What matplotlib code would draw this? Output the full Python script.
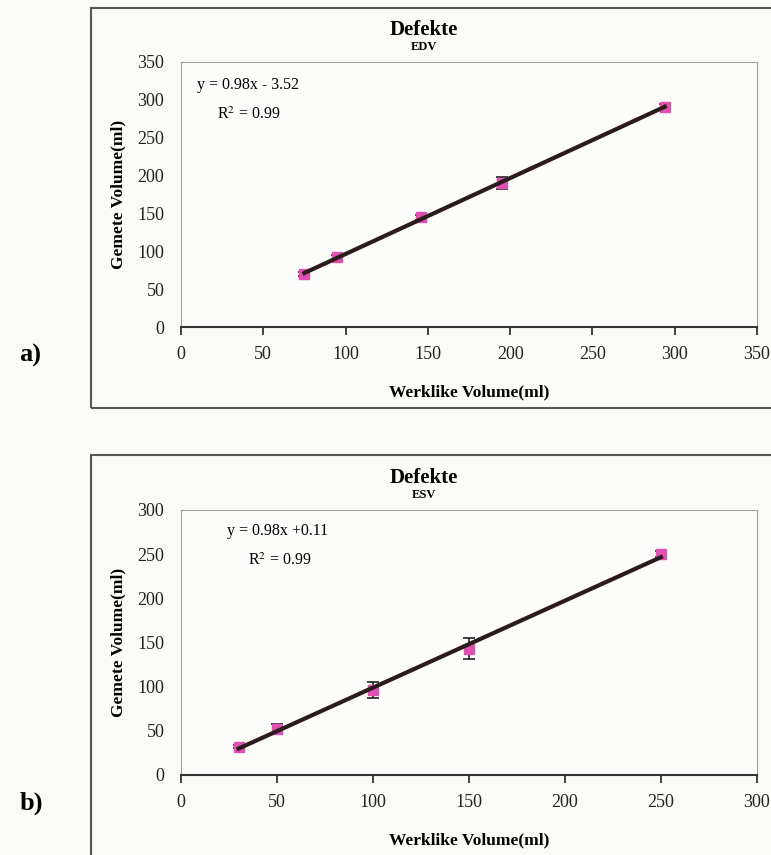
import numpy as np
import matplotlib
matplotlib.use('Agg')
import matplotlib.pyplot as plt
from matplotlib.patches import Rectangle

plt.rcParams['font.family'] = ['Liberation Serif', 'DejaVu Serif']
plt.rcParams['mathtext.fontset'] = 'stix'

# EDV data (a)
edv_x = [75, 95, 146, 195, 294]
edv_y = [70, 92, 145, 190, 291]
edv_err = [3, 3, 3, 8, 3]

# ESV data (b)
esv_x = [30, 50, 100, 150, 250]
esv_y = [32, 52, 96, 143, 250]
esv_err = [2, 6, 9, 12, 3]

panels = [
    dict(sub='EDV', x=edv_x, y=edv_y, err=edv_err, lim=350, letter='a)',
         eq='y = 0.98x - 3.52', eqpos=(9.5, 319), r2pos=(22, 281),
         rect=[0.2348, 0.6175, 0.747, 0.31], box=(0.118, 0.5228, 0.9906)),
    dict(sub='ESV', x=esv_x, y=esv_y, err=esv_err, lim=300, letter='b)',
         eq='y = 0.98x +0.11', eqpos=(24, 276), r2pos=(35, 243),
         rect=[0.2348, 0.0936, 0.747, 0.31], box=(0.118, -0.02, 0.468)),
]

fig = plt.figure(figsize=(7.71, 8.55), dpi=100, facecolor='#fafaf6')

for p in panels:
    # outer frame around each chart
    x0, y0, y1 = p['box']
    fig.patches.append(Rectangle((x0, y0), 1.0, y1 - y0, transform=fig.transFigure,
                                 fill=False, edgecolor='#555555', lw=1.5))

    ax = fig.add_axes(p['rect'])
    ax.set_facecolor('#fcfcfa')
    ax.set_xlim(0, p['lim'])
    ax.set_ylim(0, p['lim'])
    ax.set_xticks(np.arange(0, p['lim'] + 1, 50))
    ax.set_yticks(np.arange(0, p['lim'] + 1, 50))
    for s in ['top', 'right', 'left']:
        ax.spines[s].set_linestyle((0, (2, 1)))
        ax.spines[s].set_color('#a0a0a0')
        ax.spines[s].set_linewidth(0.8)
    ax.spines['bottom'].set_color('#333333')
    ax.spines['bottom'].set_linewidth(1.5)
    ax.tick_params(axis='x', direction='out', length=6, width=1.2, pad=8,
                   labelsize=13, colors='#222222')
    ax.tick_params(axis='y', length=0, pad=12, labelsize=13, colors='#222222')

    # trend line from a least-squares fit of the points
    k, b = np.polyfit(p['x'], p['y'], 1)
    xs = np.array([min(p['x']), max(p['x'])])
    ax.errorbar(p['x'], p['y'], yerr=p['err'], fmt='s', ms=7.5, color='#e050b0',
                ecolor='#222222', elinewidth=1.2, capsize=4, capthick=1.2, zorder=3)
    ax.plot(xs, k * xs + b, color='#2a1c1c', lw=3, zorder=4)

    ax.text(p['eqpos'][0], p['eqpos'][1], p['eq'], fontsize=11.5, va='center')
    ax.text(p['r2pos'][0], p['r2pos'][1], 'R$^2$ = 0.99', fontsize=11.5, va='center')

    ax.set_xlabel('Werklike Volume(ml)', fontsize=12.5, fontweight='bold', labelpad=15)
    ax.set_ylabel('Gemete Volume(ml)', fontsize=12.5, fontweight='bold', labelpad=8)

    top = p['rect'][1] + p['rect'][3]
    fig.text(0.55, top + 0.037, 'Defekte', fontsize=15, fontweight='bold', ha='center', va='center')
    fig.text(0.55, top + 0.017, p['sub'], fontsize=9, fontweight='bold', ha='center', va='center')
    fig.text(0.025, p['rect'][1] - 0.033, p['letter'], fontsize=19, fontweight='bold', va='center')

fig.savefig('out.png', dpi=100, facecolor=fig.get_facecolor())
